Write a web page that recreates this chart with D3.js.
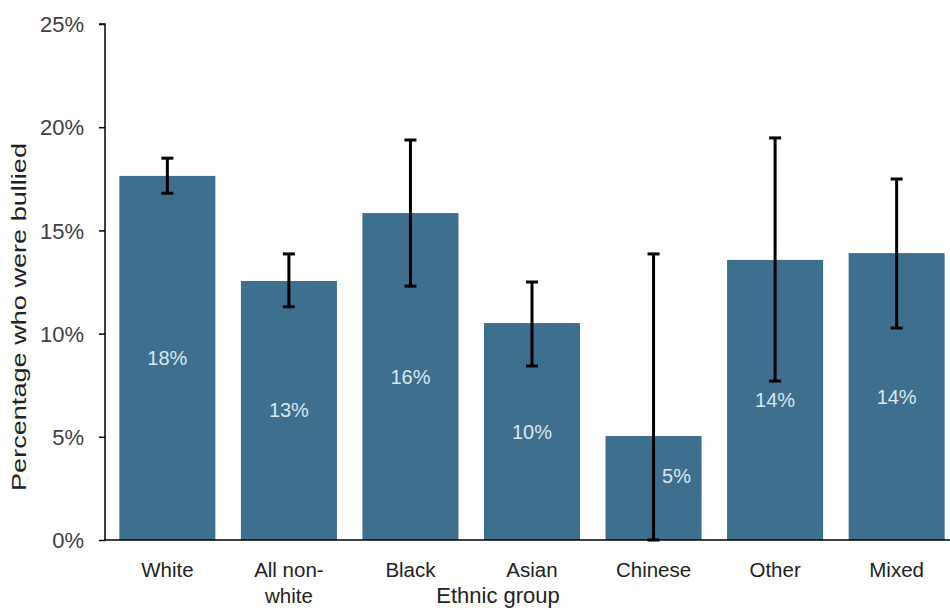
<!DOCTYPE html>
<html><head><meta charset="utf-8">
<script src="https://cdn.jsdelivr.net/npm/d3@7"></script>
<style>
html,body{margin:0;padding:0;background:#fff;}
svg{display:block;font-family:"Liberation Sans",Arial,sans-serif;}
</style></head>
<body><svg id="chart" width="950" height="610"></svg>
<script>
const categories = [["White"], ["All non-", "white"], ["Black"], ["Asian"], ["Chinese"], ["Other"], ["Mixed"]];
const values = [17.64, 12.55, 15.84, 10.51, 5.04, 13.57, 13.9];
const errLow = [16.8, 11.3, 12.3, 8.43, 0, 7.7, 10.27];
const errHigh = [18.5, 13.86, 19.38, 12.5, 13.86, 19.48, 17.49];
const valueLabels = ["18%", "13%", "16%", "10%", "5%", "14%", "14%"];
const yTicks = [0, 5, 10, 15, 20, 25];

const svg = d3.select("#chart");
const x0 = 105, yBase = 540, yTop = 24;
const x = d3.scaleBand().domain(d3.range(categories.length)).range([x0, 959]).paddingInner(0.21).paddingOuter(0.118);
const y = d3.scaleLinear().domain([0, 25]).range([yBase, yTop]);
const barColor = "#3e6f8f";

// bars
svg.append("g").selectAll("rect").data(values).join("rect")
  .attr("x", (d,i)=>x(i)).attr("width", x.bandwidth())
  .attr("y", d=>y(d)).attr("height", d=>y(0)-y(d))
  .attr("fill", barColor);

// value labels
svg.append("g").selectAll("text").data(values).join("text")
  .attr("x", (d,i)=>x(i)+x.bandwidth()/2 + (errLow[i]===0 ? 23 : 0))
  .attr("y", (d,i)=> (errLow[i]===0 ? (y(d)+y(0))/2 - 12 : (y(d)+y(0))/2) + 7)
  .attr("text-anchor","middle").attr("font-size",20).attr("fill","#dbe6ee")
  .text((d,i)=>valueLabels[i]);

// error bars
const eb = svg.append("g").attr("stroke","#000").attr("stroke-width",3);
values.forEach((v,i)=>{
  const cx = x(i)+x.bandwidth()/2;
  eb.append("line").attr("x1",cx).attr("x2",cx).attr("y1",y(errLow[i])).attr("y2",y(errHigh[i]));
  eb.append("line").attr("x1",cx-6).attr("x2",cx+6).attr("y1",y(errLow[i])).attr("y2",y(errLow[i]));
  eb.append("line").attr("x1",cx-6).attr("x2",cx+6).attr("y1",y(errHigh[i])).attr("y2",y(errHigh[i]));
});

// y axis
const yAxis = d3.axisLeft(y).tickValues(yTicks).tickFormat(d=>d+"%").tickSize(6).tickPadding(15);
const ga = svg.append("g").attr("transform",`translate(${x0},0)`).call(yAxis);
ga.select(".domain").attr("stroke","#000").attr("stroke-width",1.5).attr("d",`M-6,${yTop}H0V${yBase}`);
ga.selectAll(".tick line").attr("stroke","#000").attr("stroke-width",1.5);
ga.selectAll(".tick text").attr("font-size",22).attr("fill","#404040").attr("font-family","Liberation Sans, Arial, sans-serif").attr("dy","0.35em");

// x axis baseline
svg.append("line").attr("x1",x0).attr("x2",950).attr("y1",yBase).attr("y2",yBase).attr("stroke","#000").attr("stroke-width",1.5);

// category labels
const cl = svg.append("g").selectAll("text").data(categories).join("text")
  .attr("x",(d,i)=>x(i)+x.bandwidth()/2).attr("y",577)
  .attr("text-anchor","middle").attr("font-size",20.5).attr("fill","#222");
cl.each(function(d){
  const t = d3.select(this);
  d.forEach((line,j)=>t.append("tspan").attr("x",t.attr("x")).attr("dy", j===0?0:26).text(line));
});

// axis titles
svg.append("text").attr("x",498).attr("y",603).attr("text-anchor","middle").attr("font-size",22).attr("fill","#222").text("Ethnic group");
svg.append("text").attr("transform","translate(26,317) rotate(-90)").attr("text-anchor","middle").attr("font-size",21)
  .attr("textLength",348).attr("lengthAdjust","spacingAndGlyphs").attr("fill","#222").text("Percentage who were bullied");
</script></body></html>
